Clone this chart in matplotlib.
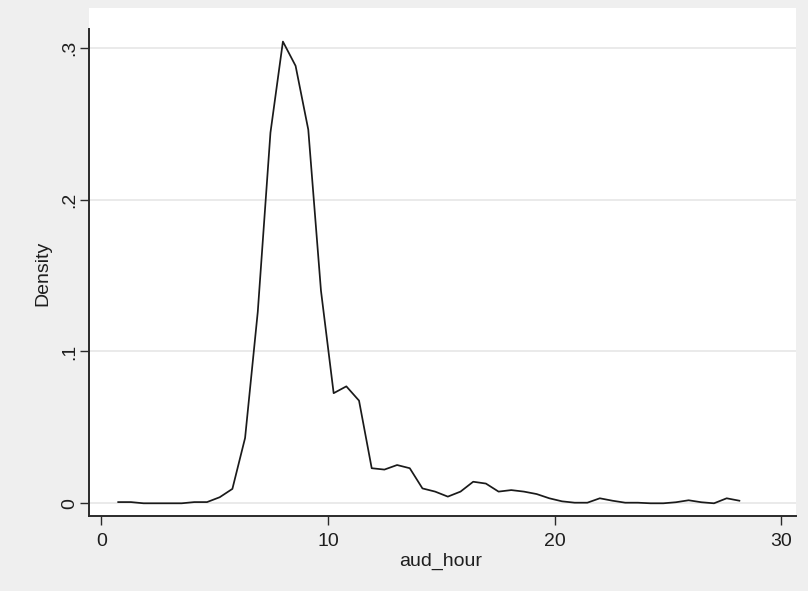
import matplotlib.pyplot as plt

# kernel density of aud_hour (50 evaluation points)
aud_hour = [0.74, 1.30, 1.86, 2.42, 2.98, 3.54, 4.10, 4.66, 5.22, 5.78,
            6.34, 6.90, 7.46, 8.01, 8.57, 9.13, 9.69, 10.25, 10.81, 11.37,
            11.93, 12.49, 13.05, 13.61, 14.17, 14.73, 15.29, 15.85, 16.41, 16.97,
            17.53, 18.09, 18.65, 19.21, 19.77, 20.33, 20.89, 21.45, 22.00, 22.56,
            23.12, 23.68, 24.24, 24.80, 25.36, 25.92, 26.48, 27.04, 27.60, 28.16]
density = [0.0008, 0.0008, 0.0, 0.0, 0.0, 0.0, 0.0008, 0.0008, 0.004, 0.0095,
           0.043, 0.126, 0.244, 0.304, 0.288, 0.246, 0.140, 0.0725, 0.077, 0.0676,
           0.0231, 0.0222, 0.0252, 0.0231, 0.0098, 0.0077, 0.0044, 0.0077, 0.0142, 0.013,
           0.0077, 0.0087, 0.0077, 0.0061, 0.0033, 0.0013, 0.0004, 0.0004, 0.0033, 0.0017,
           0.0004, 0.0004, 0.0, 0.0, 0.0007, 0.002, 0.0007, 0.0, 0.0033, 0.0017]

x_ticks = [0, 10, 20, 30]
y_ticks = [0, 0.1, 0.2, 0.3]
y_tick_labels = ['0', '.1', '.2', '.3']

plt.rcParams['font.family'] = ['Liberation Sans', 'DejaVu Sans']

W, H = 808, 591
fig = plt.figure(figsize=(W / 100, H / 100), dpi=100, facecolor='#efefef')
ax = fig.add_axes([89 / W, 1 - 516 / H, (796 - 89) / W, (516 - 8) / H])
ax.set_facecolor('white')

ax.plot(aud_hour, density, color='#1a1a1a', linewidth=1.25, zorder=3)

ax.set_xlim(-0.55, 30.66)
ax.set_ylim(-0.00836, 0.3261)
ax.set_xticks(x_ticks)
ax.set_yticks(y_ticks)
ax.set_yticklabels(y_tick_labels)

ax.yaxis.grid(True, color='#e4e4e4', linewidth=1.1)
ax.xaxis.grid(False)
ax.set_axisbelow(True)

for s in ['top', 'right']:
    ax.spines[s].set_visible(False)
for s in ['left', 'bottom']:
    ax.spines[s].set_color('#2a2a2a')
    ax.spines[s].set_linewidth(1.4)
ax.spines['left'].set_bounds(-0.00836, 0.3124)

ax.tick_params(axis='x', direction='out', length=6.3, width=1.0, color='#2a2a2a',
               pad=6, labelsize=14, labelcolor='#1e1e1e')
ax.tick_params(axis='y', direction='out', length=6.3, width=1.0, color='#2a2a2a',
               pad=1.7, labelsize=14, labelcolor='#1e1e1e')
for lab in ax.get_yticklabels():
    lab.set_rotation(90)
    lab.set_va('center')

fig.text(441 / W, 1 - 566 / H, 'aud_hour', ha='center', va='baseline',
         fontsize=14, color='#1e1e1e')
fig.text(43 / W, 1 - 273 / H, 'Density', ha='center', va='center', rotation=90,
         fontsize=14, color='#1e1e1e')

plt.savefig('out.png', dpi=100, facecolor=fig.get_facecolor())
